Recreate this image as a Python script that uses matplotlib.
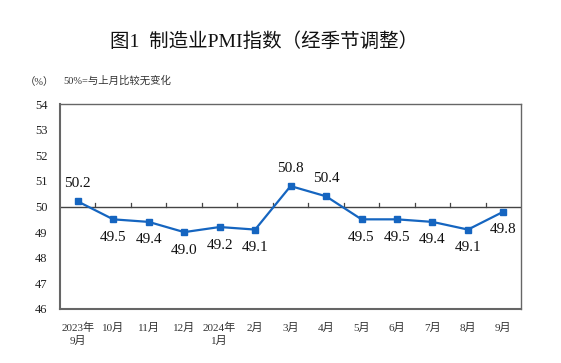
import matplotlib.pyplot as plt

plt.rcParams['font.family'] = ['Liberation Serif', 'Noto Sans CJK SC']

months = ['2023年\n9月', '10月', '11月', '12月', '2024年\n1月', '2月', '3月',
          '4月', '5月', '6月', '7月', '8月', '9月']
pmi = [50.2, 49.5, 49.4, 49.0, 49.2, 49.1, 50.8, 50.4, 49.5, 49.5, 49.4, 49.1, 49.8]
label_above = [True, False, False, False, False, False, True, True,
               False, False, False, False, False]

fig = plt.figure(figsize=(5.61, 3.63), dpi=100)
ax = fig.add_axes([0.107, 0.149, 0.822, 0.564])

x = list(range(len(pmi)))
ax.plot(x, pmi, color='#1565c0', lw=1.6, marker='s', ms=4.5, zorder=3)
ax.axhline(50, color='#444444', lw=1.0, zorder=2)

# small tick marks standing on the 50 line between months
for k in range(len(pmi) - 1):
    ax.plot([k + 0.5, k + 0.5], [50, 50.13], color='#444444', lw=0.9)

for xi, v, up in zip(x, pmi, label_above):
    ax.annotate(f'{v:.1f}', (xi, v), xytext=(0, 13 if up else -13),
                textcoords='offset points', ha='center', va='center',
                fontsize=11, color='#111111')

ax.set_xlim(-0.5, len(pmi) - 0.5)
ax.set_ylim(46, 54)
ax.set_yticks(range(46, 55))
ax.set_xticks(x)
ax.set_xticklabels(months, fontsize=8, color='#333333', linespacing=1.3)
ax.tick_params(axis='y', length=0, labelsize=9, labelcolor='#222222', pad=9)
ax.tick_params(axis='x', length=0, pad=10)
for s in ax.spines.values():
    s.set_color('#666666')
    s.set_linewidth(1.0)
ax.spines['left'].set_linewidth(1.5)
ax.spines['bottom'].set_linewidth(1.5)

fig.text(0.471, 0.885, '图1  制造业PMI指数（经季节调整）', ha='center', va='center',
         fontsize=14, fontweight='medium', color='#111111')
fig.text(0.071, 0.773, '（%）', ha='center', va='center', fontsize=7.5, color='#333333')
fig.text(0.113, 0.778, '50%=与上月比较无变化', ha='left', va='center',
         fontsize=7.5, color='#333333')

fig.savefig('out.png', dpi=100)
